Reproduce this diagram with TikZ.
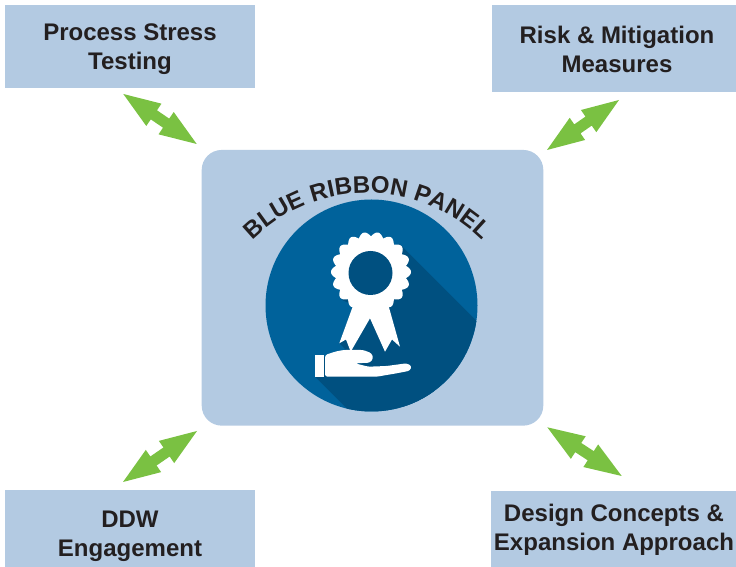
\documentclass[tikz,border=0pt]{standalone}
\usepackage{fontspec}
\setmainfont{Liberation Sans}
\usetikzlibrary{calc,decorations.text}
\definecolor{boxblue}{RGB}{179,202,226}
\definecolor{circblue}{RGB}{0,98,155}
\definecolor{shadblue}{RGB}{0,80,128}
\definecolor{arrowgreen}{RGB}{122,193,66}
\definecolor{textdark}{RGB}{35,31,32}
\newcommand\ribbonfont{\fontsize{24}{24}\selectfont\bfseries\color{textdark}}
\newcommand\dblarrow[2]{%
  \fill[arrowgreen] (#1)
    -- ($(#1)!37pt!(#2)!13.5pt!90:(#2)$)
    -- ($(#1)!37pt!(#2)!5.5pt!90:(#2)$)
    -- ($(#2)!37pt!(#1)!5.5pt!-90:(#1)$)
    -- ($(#2)!37pt!(#1)!13.5pt!-90:(#1)$)
    -- (#2)
    -- ($(#2)!37pt!(#1)!13.5pt!90:(#1)$)
    -- ($(#2)!37pt!(#1)!5.5pt!90:(#1)$)
    -- ($(#1)!37pt!(#2)!5.5pt!-90:(#2)$)
    -- ($(#1)!37pt!(#2)!13.5pt!-90:(#2)$)
    -- cycle;}
\begin{document}
\begin{tikzpicture}[x=1pt,y=1pt,
  cornerbox/.style={fill=boxblue, draw=none, inner sep=0pt, rectangle},
  boxtext/.style={font=\fontsize{24}{29}\selectfont\bfseries, text=textdark, align=center, inner sep=0pt},
  iconwhite/.style={fill=white},
  iconshade/.style={fill=shadblue}]
\useasboundingbox (0,0) rectangle (736,567);
% corner boxes
\node[cornerbox, minimum width=250pt, minimum height=83pt] (tl) at (130,520.5) {};
\node[cornerbox, minimum width=244pt, minimum height=87pt] (tr) at (614,518.5) {};
\node[cornerbox, minimum width=250pt, minimum height=77pt] (bl) at (130,38.5) {};
\node[cornerbox, minimum width=245pt, minimum height=76pt] (br) at (613.5,38) {};
\node[boxtext] (tltext) at (130,518) {Process Stress\\Testing};
\node[boxtext] (trtext) at (617,517.5) {Risk \& Mitigation\\Measures};
\node[boxtext] (bltext) at (130,30.5) {DDW\\Engagement};
\node[boxtext] (brtext) at (614,37.5) {Design Concepts \&\\Expansion Approach};
% central panel
\node[cornerbox, rounded corners=20pt, minimum width=341.6pt, minimum height=275.7pt] (panel) at (372.5,279.2) {};
\node[circle, fill=circblue, minimum size=212pt, inner sep=0pt] (disc) at (371.5,261.5) {};
% long shadow
\begin{scope}
  \clip (disc.center) circle[radius=106pt];
  \fill[iconshade] (399.3,323.3) -- ++(300,-300) -- (639.3,-76.3) -- (339.3,223.7)
     -- (353.3,262) -- (342.7,266.7) -- (371,295) -- cycle;
  \fill[iconshade] (315,190.3) -- ++(300,-300) -- (706.7,-96.3) -- (406.7,203.7)
     -- (376.7,200) -- (355,203.7) -- (315,212) -- cycle;
\end{scope}
% ribbon tails
\fill[iconwhite] (353.3,262) -- (339.3,223.7) -- (346,227.5) -- (350.7,215.3) -- (370,248.7)
   -- (385,215.3) -- (392,227.5) -- (400,220.3) -- (388.3,262) -- cycle;
% rosette
\fill[iconwhite] plot[domain=0:360, samples=361, variable=\t]
   ({371+(35.5+4.5*abs(cos(9*\t)))*cos(\t)}, {295+(35.5+4.5*abs(cos(9*\t)))*sin(\t)}) -- cycle;
\fill[iconshade] (370.5,294) circle[radius=22pt];
% hand
\fill[iconwhite] (315,190.3) rectangle (324,212);
\fill[iconwhite, rounded corners=2.5pt] (325,212) -- (335,215.3) -- (343.3,217) -- (363.3,217)
   -- (371.7,213.7) -- (373.3,208.7) -- (370,204.3) -- (355,203.7) -- (368.3,200.3)
   -- (386.7,201) -- (406.7,203.7) -- (411.7,201) -- (410,196.3) -- (396.7,193.7)
   -- (376.7,190.3) -- (325,190.3) -- cycle;
% curved title
\coordinate (arcc) at (367,211);
\path[decorate, decoration={text along path, text={|\ribbonfont|BLUE RIBBON PANEL}, text align=center}]
   ($(arcc)+(150:163)$) arc[start angle=150, end angle=30, radius=163pt];
% arrows
\coordinate (a1s) at (123.3,473); \coordinate (a1e) at (196.7,423);
\coordinate (a2s) at (547,417);   \coordinate (a2e) at (619,467);
\coordinate (a3s) at (123,85);    \coordinate (a3e) at (197,136);
\coordinate (a4s) at (547.3,139.7); \coordinate (a4e) at (621.7,91);
\dblarrow{a1s}{a1e}
\dblarrow{a2s}{a2e}
\dblarrow{a3s}{a3e}
\dblarrow{a4s}{a4e}
\end{tikzpicture}
\end{document}
